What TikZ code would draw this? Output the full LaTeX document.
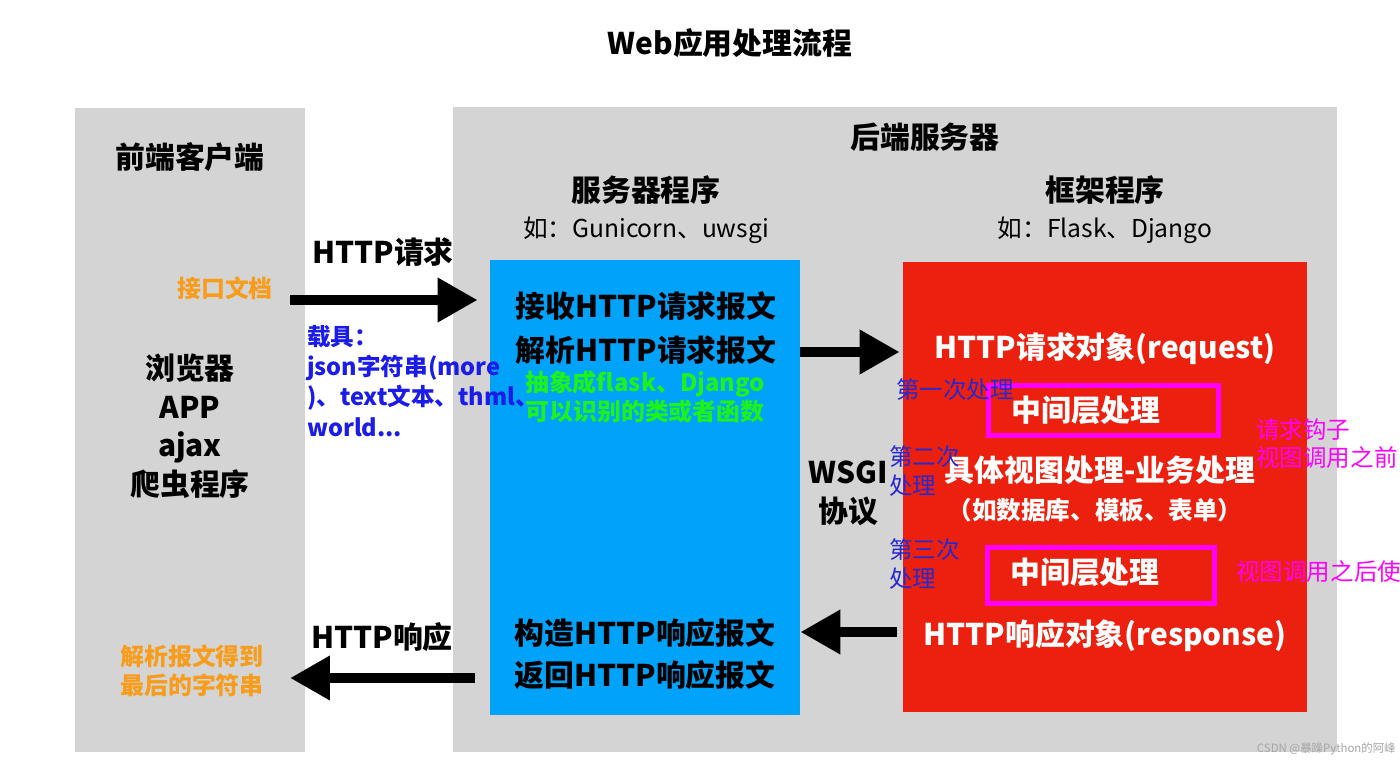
\documentclass[tikz,border=0pt]{standalone}
\usepackage{fontspec}
\setmainfont{Noto Sans CJK SC}
\usepackage{xcolor}
\usepackage{tikz}
\usetikzlibrary{arrows.meta,positioning,calc,fit}

\definecolor{panelgray}{RGB}{212,212,212}
\definecolor{srvblue}{RGB}{0,162,250}
\definecolor{fwred}{RGB}{236,32,14}
\definecolor{hookmag}{RGB}{255,0,255}
\definecolor{noteblue}{RGB}{28,28,232}
\definecolor{stepblue}{RGB}{40,40,205}
\definecolor{docorange}{RGB}{248,156,28}
\definecolor{absgreen}{RGB}{28,242,28}

\begin{document}
\begin{tikzpicture}[x=0.02cm, y=-0.02cm,
  box/.style={inner sep=0pt, draw=none},
  magbox/.style={draw=hookmag, line width=0.1cm, inner sep=0pt},
  big/.style={inner sep=0pt, font=\fontsize{17pt}{22pt}\selectfont\bfseries},
  mid/.style={inner sep=0pt, font=\fontsize{13.6pt}{17pt}\selectfont\bfseries},
  note/.style={inner sep=0pt, font=\fontsize{13.4pt}{16.5pt}\selectfont},
  fat/.style={line width=0.2cm, -{Triangle[length=0.8cm,width=0.84cm]}}]
  \useasboundingbox[fill=white] (0,0) rectangle (1400,760);
  % Panels
  \node[box, fill=panelgray, fit={(75,108) (305,752)}] (client) {};
  \node[box, fill=panelgray, fit={(453,107) (1337,752)}] (backend) {};
  \node[box, fill=srvblue, fit={(490,260) (800,715)}] (srv) {};
  \node[box, fill=fwred, fit={(903,262) (1307,712)}] (fw) {};
  \node[magbox, fit={(988,385) (1218,435)}] (mwA) {};
  \node[magbox, fit={(987,547) (1214,603)}] (mwB) {};
  % Titles
  \node[big] (title) at (730,43) {Web应用处理流程};
  \node[big] (clienthd) at (190,157) {前端客户端};
  \node[big] (backendhd) at (925,137) {后端服务器};
  \node[big] (srvhd) at (646,190) {服务器程序};
  \node[inner sep=0pt, font=\fontsize{14pt}{17pt}\selectfont] (srveg) at (646,230) {如：Gunicorn、uwsgi};
  \node[big] (fwhd) at (1105,190) {框架程序};
  \node[inner sep=0pt, font=\fontsize{14pt}{17pt}\selectfont] (fweg) at (1105,230) {如：Flask、Django};
  % Left: client
  \node[mid, text=docorange] (doc) at (225,288) {接口文档};
  \node[big, align=center, font=\fontsize{17pt}{21.9pt}\selectfont\bfseries] (kinds) at (190,426)
    {浏览器\\APP\\ajax\\爬虫程序};
  \node[mid, text=docorange, align=center, font=\fontsize{13.6pt}{16.4pt}\selectfont\bfseries] (parse) at (192,671)
    {解析报文得到\\最后的字符串};
  % Request / response
  \node[big] (reqlbl) at (383,252) {HTTP请求};
  \node[mid, text=noteblue, align=left, anchor=west, font=\fontsize{13.4pt}{17.2pt}\selectfont\bfseries] (carrier) at (307,381)
    {载具：\\json字符串(more\\)、text文本、thml、\\world...};
  \node[big] (resplbl) at (382,637) {HTTP响应};
  \coordinate (reqA) at (290,300);
  \coordinate (respA) at (290,678);
  \draw[fat] (reqA) -- ([xshift=-0.24cm]srv.west |- reqA);
  \draw[fat] ([xshift=-0.3cm]srv.west |- respA) -- (respA);
  % Server program
  \node[big, align=center, font=\fontsize{17pt}{25pt}\selectfont\bfseries] (recv) at (646,328)
    {接收HTTP请求报文\\解析HTTP请求报文};
  \node[mid, text=absgreen, align=center, font=\fontsize{13.6pt}{16.4pt}\selectfont\bfseries] (abs) at (645,397)
    {抽象成flask、Django\\可以识别的类或者函数};
  \node[big, align=center, font=\fontsize{17pt}{24pt}\selectfont\bfseries] (build) at (645,654)
    {构造HTTP响应报文\\返回HTTP响应报文};
  \node[big, align=center, font=\fontsize{17pt}{22pt}\selectfont\bfseries] (wsgi) at (848,493) {WSGI\\协议};
  % Framework
  \node[big, text=white] (reqobj) at (1105,349) {HTTP请求对象(request)};
  \node[big, text=white] (mwAtxt) at (1086,410) {中间层处理};
  \node[big, text=white] (view) at (1100,470) {具体视图处理-业务处理};
  \node[mid, text=white, font=\fontsize{14pt}{17pt}\selectfont\bfseries] (vieweg) at (1095,510) {（如数据库、模板、表单）};
  \node[big, text=white] (mwBtxt) at (1085,572) {中间层处理};
  \node[big, text=white] (respobj) at (1105,636) {HTTP响应对象(response)};
  \draw[fat] (srv.east |- 0,352) -- ([xshift=-0.06cm]fw.west |- 0,352);
  \draw[fat] ([xshift=-0.12cm]fw.west |- 0,632) -- (srv.east |- 0,632);
  % Steps and hooks
  \node[note, text=stepblue] (step1) at (955,390) {第一次处理};
  \node[note, text=stepblue, align=left, anchor=west, font=\fontsize{13.4pt}{16pt}\selectfont] (step2) at (889,471) {第二次\\处理};
  \node[note, text=stepblue, align=left, anchor=west, font=\fontsize{13.4pt}{16pt}\selectfont] (step3) at (889,564) {第三次\\处理};
  \node[note, text=hookmag, align=left, anchor=west, font=\fontsize{13.4pt}{16pt}\selectfont] (hookA) at (1256,444) {请求钩子\\视图调用之前};
  \node[note, text=hookmag, anchor=west] (hookB) at (1236,572) {视图调用之后使};
  \node[inner sep=0pt, anchor=east, text=gray!70, font=\fontsize{6.5pt}{8pt}\selectfont] (mark) at (1396,749) {CSDN @暴躁Python的阿峰};
\end{tikzpicture}
\end{document}
